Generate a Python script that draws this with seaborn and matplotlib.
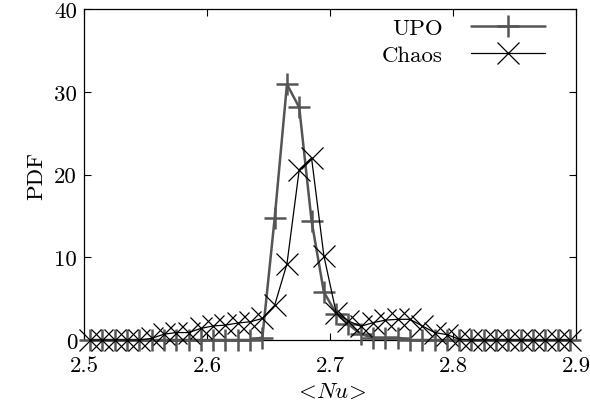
import matplotlib
matplotlib.use("Agg")
import matplotlib.pyplot as plt
import seaborn as sns
import pandas as pd

# bin centres of <Nu>
nu = [2.505, 2.515, 2.525, 2.535, 2.545, 2.555, 2.565, 2.575, 2.585, 2.595,
      2.605, 2.615, 2.625, 2.635, 2.645, 2.655, 2.665, 2.675, 2.685, 2.695,
      2.705, 2.715, 2.725, 2.735, 2.745, 2.755, 2.765, 2.775, 2.785, 2.795,
      2.805, 2.815, 2.825, 2.835, 2.845, 2.855, 2.865, 2.875, 2.885, 2.895]

upo = [0.0, 0.0, 0.0, 0.0, 0.0, 0.0, 0.0, 0.0, 0.0, 0.0,
       0.0, 0.0, 0.0, 0.0, 0.3, 14.7, 30.9, 28.1, 14.4, 5.8,
       3.2, 1.9, 0.7, 0.3, 0.3, 0.3, 0.0, 0.0, 0.0, 0.0,
       0.0, 0.0, 0.0, 0.0, 0.0, 0.0, 0.0, 0.0, 0.0, 0.0]

chaos = [0.0, 0.0, 0.0, 0.0, 0.0, 0.2, 0.7, 0.9, 0.9, 1.4,
         1.7, 1.8, 2.05, 2.2, 2.6, 4.2, 9.2, 20.6, 22.0, 10.2,
         3.3, 2.3, 1.65, 2.1, 2.4, 2.5, 2.5, 1.7, 0.9, 0.65,
         0.1, 0.0, 0.0, 0.0, 0.0, 0.0, 0.0, 0.0, 0.0, 0.0]

series_names = ["UPO", "Chaos"]
x_ticks = [2.5, 2.6, 2.7, 2.8, 2.9]
y_ticks = [0, 10, 20, 30, 40]

sns.set_theme(style="white")
plt.rcParams["font.family"] = ["cmr10", "DejaVu Serif"]
plt.rcParams["mathtext.fontset"] = "cm"
plt.rcParams["axes.formatter.use_mathtext"] = True
plt.rcParams["text.color"] = "black"
plt.rcParams["axes.labelcolor"] = "black"

FS = 16.5
UPO_C = "#555555"

fig = plt.figure(figsize=(5.9, 4.1), dpi=100)
ax = fig.add_axes([84 / 590, 1 - 341 / 410, (576 - 84) / 590, (341 - 10) / 410])

df_upo = pd.DataFrame({"nu": nu, "pdf": upo})
df_chaos = pd.DataFrame({"nu": nu, "pdf": chaos})

sns.lineplot(data=df_upo, x="nu", y="pdf", ax=ax, color=UPO_C, linewidth=1.8,
             marker="+", markersize=16, markeredgewidth=1.8,
             markeredgecolor=UPO_C, markerfacecolor=UPO_C,
             label=series_names[0], clip_on=False, zorder=3)
sns.lineplot(data=df_chaos, x="nu", y="pdf", ax=ax, color="black", linewidth=0.9,
             marker="x", markersize=16, markeredgewidth=0.9,
             markeredgecolor="black", markerfacecolor="black",
             label=series_names[1], clip_on=False, zorder=4)

ax.set_xlim(2.5, 2.9)
ax.set_ylim(0, 40)
ax.set_xticks(x_ticks)
ax.set_xticklabels([f"{v:.1f}" for v in x_ticks])
ax.set_yticks(y_ticks)
ax.set_yticklabels([str(v) for v in y_ticks])

ax.tick_params(axis="both", which="both", direction="in", length=5, width=0.8,
               top=True, right=True, bottom=True, left=True, labelsize=FS,
               colors="black", labelcolor="black")
ax.tick_params(axis="x", pad=11)
ax.tick_params(axis="y", pad=5)
for s in ax.spines.values():
    s.set_visible(True)
    s.set_color("black")
    s.set_linewidth(0.9)

ax.set_xlabel(r"$<\!Nu\!>$", fontsize=FS, labelpad=5, color="black")
ax.set_ylabel("PDF", fontsize=FS, labelpad=6, color="black")

leg = ax.legend(loc="upper right", bbox_to_anchor=(0.937, 0.972), frameon=False,
                markerfirst=False, handlelength=3.25, handletextpad=1.2,
                labelspacing=0.3, borderpad=0, borderaxespad=0, fontsize=FS)
for t in leg.get_texts():
    t.set_color("black")

fig.savefig("out.png", dpi=100, facecolor="white")
